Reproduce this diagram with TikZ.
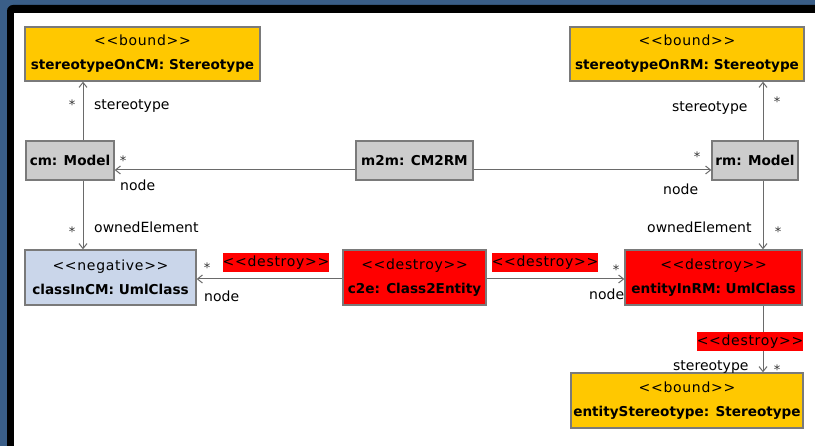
\documentclass[tikz,border=0pt]{standalone}
\usepackage{fontspec}
\setmainfont{DejaVu Sans}
\usetikzlibrary{arrows.meta}
\definecolor{frameblue}{HTML}{3A5E88}
\definecolor{boundfill}{HTML}{FFC800}
\definecolor{modelfill}{HTML}{CCCCCC}
\definecolor{negfill}{HTML}{CAD6EA}
\definecolor{destroyfill}{HTML}{FF0000}
\definecolor{boxline}{HTML}{7A7A7A}
\definecolor{linegray}{HTML}{6A6A6A}
\newcommand\objname[1]{{\fontsize{13.6}{24}\selectfont\bfseries #1}}
% stereotype guillemets written as doubled angle brackets, slightly tracked
\newcommand\stereo[1]{{\addfontfeature{LetterSpace=5}<{}<#1>{}>}}
\begin{document}
\begin{tikzpicture}[x=1pt,y=-1pt,
  umlbox/.style={draw=boxline, line width=1.3pt, inner sep=0pt, align=center,
                 font=\fontsize{14}{24}\selectfont},
  conn/.style={draw=linegray, line width=1pt,
               -{Straight Barb[length=5pt,width=8pt,line width=1pt]}},
  lbl/.style={font=\fontsize{14}{16}\selectfont, inner sep=0pt, anchor=base west},
  mult/.style={font=\fontsize{13}{16}\selectfont, inner sep=0pt, anchor=base, text=black!80},
  destroytag/.style={fill=destroyfill, inner sep=0pt, minimum width=106pt,
                     minimum height=19pt, font=\fontsize{14}{16}\selectfont}]
  \useasboundingbox (0,0) rectangle (815,446);
  % window frame
  \fill[frameblue] (0,0) rectangle (815,446);
  \fill[black, rounded corners=6pt] (7,5) rectangle (840,470);
  \fill[white] (14,13) rectangle (815,446);

  % objects
  \node[umlbox, fill=boundfill, minimum width=235pt, minimum height=54pt] (soCM) at (142.5,54)
    {\stereo{bound}\\\objname{stereotypeOnCM: Stereotype}};
  \node[umlbox, fill=boundfill, minimum width=234pt, minimum height=54pt] (soRM) at (687,54)
    {\stereo{bound}\\\objname{stereotypeOnRM: Stereotype}};
  \node[umlbox, fill=modelfill, minimum width=88pt, minimum height=39pt] (cm) at (70,160.5)
    {\objname{cm: Model}};
  \node[umlbox, fill=modelfill, minimum width=117pt, minimum height=39pt] (m2m) at (414.5,160.5)
    {\objname{m2m: CM2RM}};
  \node[umlbox, fill=modelfill, minimum width=86pt, minimum height=39pt] (rm) at (755,160.5)
    {\objname{rm: Model}};
  \node[umlbox, fill=negfill, minimum width=171pt, minimum height=55pt] (clsCM) at (110.5,277.5)
    {\stereo{negative}\\\objname{classInCM: UmlClass}};
  \node[umlbox, fill=destroyfill, minimum width=143pt, minimum height=55pt] (c2e) at (414.5,277.5)
    {\stereo{destroy}\\\objname{c2e: Class2Entity}};
  \node[umlbox, fill=destroyfill, minimum width=177pt, minimum height=55pt] (entRM) at (713.5,277.5)
    {\stereo{destroy}\\\objname{entityInRM: UmlClass}};
  \node[umlbox, fill=boundfill, minimum width=232pt, minimum height=55pt] (entST) at (687,400.5)
    {\stereo{bound}\\\objname{entityStereotype: Stereotype}};

  % links
  \draw[conn] ([xshift=13pt]cm.north) -- ([xshift=13pt]cm.north |- soCM.south);
  \draw[conn] ([xshift=13pt]cm.south) -- ([xshift=13pt]cm.south |- clsCM.north);
  \draw[conn] ([yshift=-9.5pt]m2m.west) -- ([yshift=-9.5pt]m2m.west -| cm.east);
  \draw[conn] ([yshift=-9.5pt]m2m.east) -- ([yshift=-9.5pt]m2m.east -| rm.west);
  \draw[conn] ([xshift=8pt]rm.north) -- ([xshift=8pt]rm.north |- soRM.south);
  \draw[conn] ([xshift=8pt]rm.south) -- ([xshift=8pt]rm.south |- entRM.north);
  \draw[conn] ([yshift=-1.5pt]c2e.west) -- ([yshift=-1.5pt]c2e.west -| clsCM.east);
  \draw[conn] ([yshift=-1.5pt]c2e.east) -- ([yshift=-1.5pt]c2e.east -| entRM.west);
  \draw[conn] ([xshift=49.5pt]entRM.south) -- ([xshift=49.5pt]entRM.south |- entST.north);

  % role names and multiplicities
  \node[mult] (m1) at (72,110) {*};
  \node[lbl] (r1) at (94,110) {stereotype};
  \node[mult] (m2) at (123,166) {*};
  \node[lbl] (r2) at (120,191) {node};
  \node[mult] (m3) at (72,237) {*};
  \node[lbl] (r3) at (94,233) {ownedElement};
  \node[mult] (m4) at (697,162) {*};
  \node[lbl] (r4) at (663,195) {node};
  \node[mult] (m5) at (777,107) {*};
  \node[lbl] (r5) at (672,112) {stereotype};
  \node[mult] (m6) at (778,237) {*};
  \node[lbl] (r6) at (647,233) {ownedElement};
  \node[mult] (m7) at (207,273) {*};
  \node[lbl] (r7) at (204,302) {node};
  \node[mult] (m8) at (616,275) {*};
  \node[lbl] (r8) at (589,300) {node};
  \node[lbl] (r9) at (673,371) {stereotype};
  \node[mult] (m9) at (777,375) {*};

  % destroy markers on links
  \node[destroytag] (t1) at (276,263) {\stereo{destroy}};
  \node[destroytag] (t2) at (545,262.5) {\stereo{destroy}};
  \node[destroytag] (t3) at (750,341.5) {\stereo{destroy}};
\end{tikzpicture}
\end{document}
